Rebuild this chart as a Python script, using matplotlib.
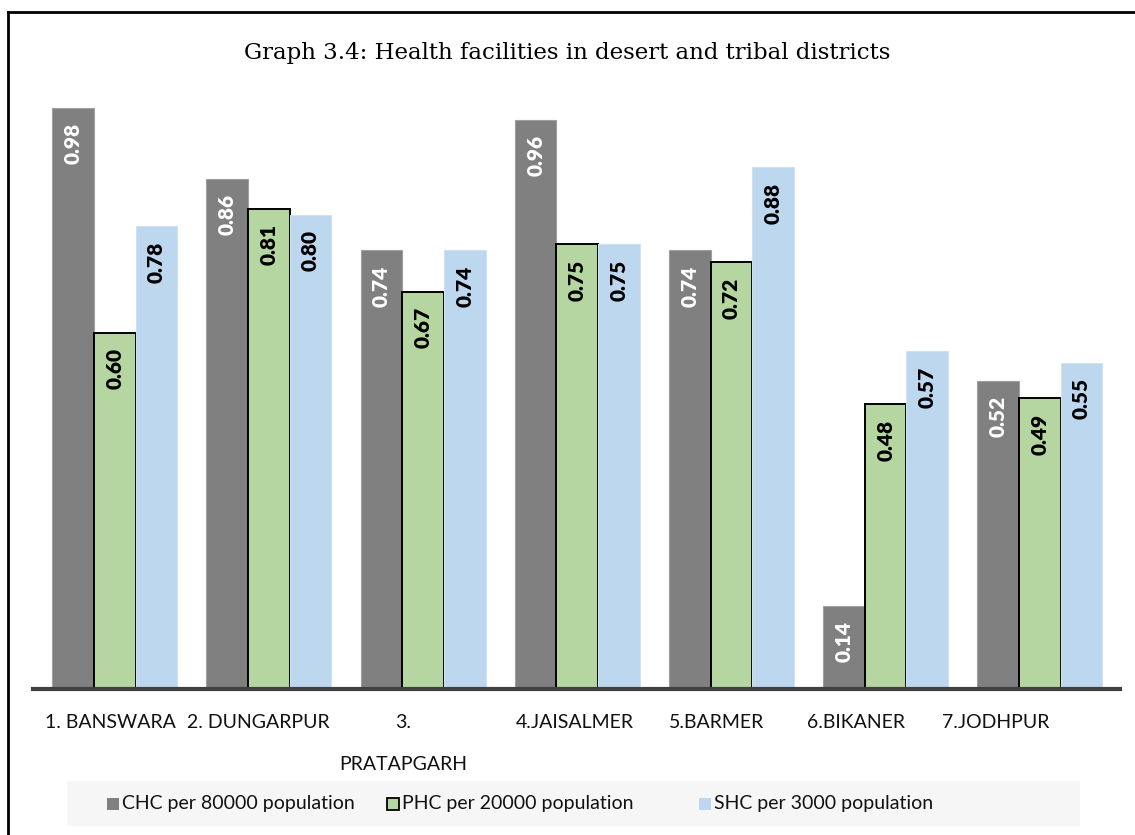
import matplotlib
matplotlib.use("Agg")
import matplotlib.pyplot as plt
import numpy as np
from matplotlib.patches import Rectangle
from matplotlib.lines import Line2D
from matplotlib.transforms import ScaledTranslation

districts = ["1. BANSWARA", "2. DUNGARPUR", "3.\nPRATAPGARH", "4.JAISALMER",
             "5.BARMER", "6.BIKANER", "7.JODHPUR"]
chc = [0.98, 0.86, 0.74, 0.96, 0.74, 0.14, 0.52]
phc = [0.60, 0.81, 0.67, 0.75, 0.72, 0.48, 0.49]
shc = [0.78, 0.80, 0.74, 0.75, 0.88, 0.57, 0.55]
series_names = ["CHC per 80000 population", "PHC per 20000 population", "SHC per 3000 population"]

# horizontal nudges of the category labels (pixels), as laid out in the original
label_shift_px = [-4, -11, -20, -2, -15, -30, -44]

W, H = 1135, 835
fig = plt.figure(figsize=(W / 100, H / 100), dpi=100)
fig.patch.set_facecolor("white")

ax = fig.add_axes([33 / W, 1 - 689 / H, (1120 - 33) / W, (689 - 96) / H])
x = np.arange(len(districts))
bw = 0.27
colors = ["#808080", "#b5d6a0", "#bdd7ee"]
edges = ["#a0a0a0", "black", "#d0e2f2"]
lws = [0.8, 1.4, 0.8]
txtcol = ["white", "black", "black"]
for i, (vals, c, ec, lw, tc) in enumerate(zip([chc, phc, shc], colors, edges, lws, txtcol)):
    pos = x + (i - 1) * bw
    bars = ax.bar(pos, vals, width=bw, color=c, edgecolor=ec, linewidth=lw, zorder=2)
    for b, v in zip(bars, vals):
        ax.annotate(f"{v:.2f}", (b.get_x() + b.get_width() / 2, v), xytext=(0, -11),
                    textcoords="offset points", rotation=90, ha="center", va="top",
                    fontsize=15, fontweight="heavy", color=tc, family="Lato", zorder=3)

ax.set_xlim(-0.53, 6.52)
ax.set_ylim(0, 1.0)
for s in ["top", "right", "left"]:
    ax.spines[s].set_visible(False)
ax.spines["bottom"].set_color("#404040")
ax.spines["bottom"].set_linewidth(3)
ax.set_yticks([])
ax.set_xticks(x)
ax.set_xticklabels(districts, fontsize=14, family="Lato", color="#111111", linespacing=2.75)
ax.tick_params(axis="x", length=0, pad=18)
for lab, dx in zip(ax.get_xticklabels(), label_shift_px):
    lab.set_transform(lab.get_transform() + ScaledTranslation(dx / 100, 0, fig.dpi_scale_trans))

fig.text(0.5, 1 - 53 / H, "Graph 3.4: Health facilities in desert and tribal districts",
         ha="center", va="center", fontsize=16.5, family="DejaVu Serif")

# legend background
fig.patches.append(Rectangle((67 / W, 1 - 826 / H), (1080 - 67) / W, 45 / H,
                             transform=fig.transFigure, facecolor="#f6f6f6",
                             edgecolor="none", zorder=0))
leg_marker_x = [113, 393, 705]
ly = 1 - 804 / H
for i, (name, c, ec, mx) in enumerate(zip(series_names, colors, edges, leg_marker_x)):
    fig.add_artist(Line2D([mx / W], [ly], transform=fig.transFigure, marker="s",
                          linestyle="none", markersize=9, markerfacecolor=c,
                          markeredgecolor=(ec if i == 1 else c),
                          markeredgewidth=(1.3 if i == 1 else 0)))
    fig.text((mx + 9) / W, ly, name, ha="left", va="center", fontsize=14,
             family="Lato", color="#111111")

# outer border lines (top and left)
fig.add_artist(Line2D([8 / W, 1.0], [1 - 12 / H, 1 - 12 / H], transform=fig.transFigure,
                      color="black", linewidth=2))
fig.add_artist(Line2D([8 / W, 8 / W], [1 - 12 / H, 0.0], transform=fig.transFigure,
                      color="black", linewidth=2))

fig.savefig("out.png", dpi=100)
